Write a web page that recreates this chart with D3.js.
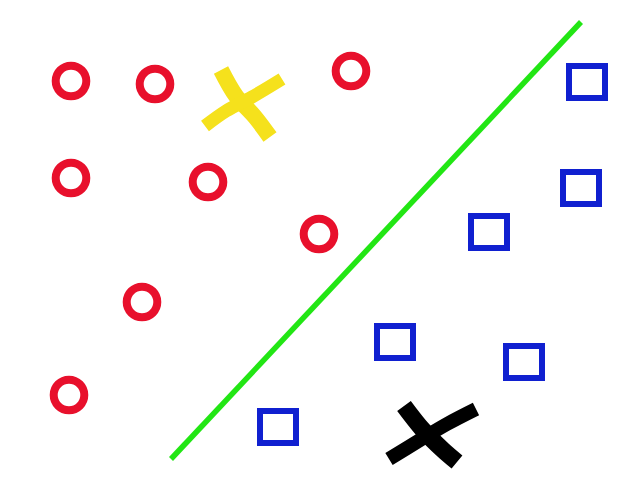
<!DOCTYPE html>
<html><head><meta charset="utf-8">
<script src="https://cdn.jsdelivr.net/npm/d3@7"></script>
<style>html,body{margin:0;padding:0;background:#fff;}svg{display:block;}</style>
</head><body>
<script>
// Class A points (red rings)
const circlesX = [71, 155, 351, 71, 208, 319, 142, 69];
const circlesY = [81, 84, 71, 178, 182, 234, 302, 395];
// Class B points (blue squares)
const squaresX = [587, 581, 489, 395, 524, 278];
const squaresY = [82, 188, 232, 342, 362, 427];
// Separating line endpoints
const lineX = [171, 581];
const lineY = [459, 22];
// Query points drawn as hand-made crosses (two strokes each)
const yellowStrokeA = [[221, 70], [236, 96], [255, 117], [270, 137]];
const yellowStrokeB = [[282, 79], [252, 97], [226, 111], [205, 126]];
const blackStrokeA = [[404, 406], [423, 430], [443, 450], [457, 462]];
const blackStrokeB = [[476, 409], [447, 424], [420, 440], [389, 459]];

const W = 640, H = 480;
const x = d3.scaleLinear().domain([0, 640]).range([0, W]);
const y = d3.scaleLinear().domain([0, 480]).range([0, H]);

const svg = d3.select("body").append("svg").attr("width", W).attr("height", H);
svg.append("rect").attr("width", W).attr("height", H).attr("fill", "#fff");

const line = d3.line().x(d => x(d[0])).y(d => y(d[1])).curve(d3.curveCatmullRom);

svg.append("path")
  .datum(lineX.map((v, i) => [v, lineY[i]]))
  .attr("d", d3.line().x(d => x(d[0])).y(d => y(d[1])))
  .attr("stroke", "#22e614").attr("stroke-width", 5.5).attr("fill", "none");

svg.selectAll("circle.a").data(circlesX.map((v, i) => [v, circlesY[i]]))
  .join("circle")
  .attr("cx", d => x(d[0])).attr("cy", d => y(d[1]))
  .attr("r", 15.3).attr("fill", "none")
  .attr("stroke", "#e8102c").attr("stroke-width", 8);

svg.selectAll("rect.b").data(squaresX.map((v, i) => [v, squaresY[i]]))
  .join("rect")
  .attr("x", d => x(d[0]) - 18).attr("y", d => y(d[1]) - 16)
  .attr("width", 36).attr("height", 32)
  .attr("fill", "none").attr("stroke", "#1020d0").attr("stroke-width", 6);

const crosses = [
  {pts: yellowStrokeA, c: "#f5e11c", w: 16},
  {pts: yellowStrokeB, c: "#f5e11c", w: 13},
  {pts: blackStrokeA, c: "#000", w: 17},
  {pts: blackStrokeB, c: "#000", w: 14}
];
svg.selectAll("path.x").data(crosses).join("path")
  .attr("d", d => line(d.pts))
  .attr("fill", "none").attr("stroke", d => d.c)
  .attr("stroke-width", d => d.w).attr("stroke-linecap", "butt")
  .attr("stroke-linejoin", "round");
</script>
</body></html>
